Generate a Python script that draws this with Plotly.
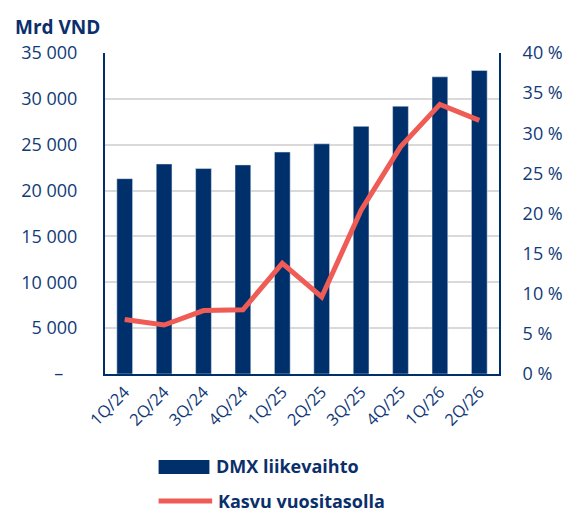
import plotly.graph_objects as go

quarters = ["1Q/24", "2Q/24", "3Q/24", "4Q/24", "1Q/25", "2Q/25", "3Q/25", "4Q/25", "1Q/26", "2Q/26"]
revenue = [21300, 22900, 22400, 22800, 24200, 25100, 27000, 29200, 32400, 33100]
growth = [6.8, 6.1, 7.9, 8.0, 13.8, 9.6, 20.4, 28.3, 33.6, 31.6]

left_ticks = [0, 5000, 10000, 15000, 20000, 25000, 30000, 35000]
left_text = ["–\u00a0\u00a0\u00a0", "5 000", "10 000", "15 000", "20 000", "25 000", "30 000", "35 000"]
right_ticks = [0, 5, 10, 15, 20, 25, 30, 35, 40]
right_text = ["0 %", "5 %", "10 %", "15 %", "20 %", "25 %", "30 %", "35 %", "40 %"]

navy = "#00306b"
text_col = "#123a78"
red = "#ef5b55"
font = "Open Sans"

fig = go.Figure()
fig.add_trace(go.Bar(x=quarters, y=revenue, marker_color=navy, name="DMX liikevaihto"))
fig.add_trace(go.Scatter(x=quarters, y=growth, yaxis="y2", mode="lines",
                         line=dict(color=red, width=5), name="Kasvu vuositasolla"))

fig.update_layout(
    width=575, height=512,
    margin=dict(l=105, r=66, t=53, b=138),
    plot_bgcolor="white", paper_bgcolor="white",
    showlegend=False, bargap=0.6,
    font=dict(family=font, color=text_col, size=18),
    title=dict(text="<b>Mrd VND</b>", xref="container", yref="container",
               x=15 / 575, y=1 - 27 / 512, xanchor="left", yanchor="middle",
               font=dict(size=19, color="#0a2f6b", family=font)),
    xaxis=dict(showline=True, linecolor=navy, linewidth=2, tickangle=-45,
               tickfont=dict(size=16.5), showgrid=False),
    yaxis=dict(range=[0, 35000], tickvals=left_ticks, ticktext=left_text,
               showline=True, linecolor=navy, linewidth=2,
               gridcolor="#d9d9d9", gridwidth=1.5, zeroline=False,
               ticklabelstandoff=22),
    yaxis2=dict(range=[0, 40], tickvals=right_ticks, ticktext=right_text,
                overlaying="y", side="right", showline=True, linecolor=navy,
                linewidth=2, showgrid=False, zeroline=False, ticklabelstandoff=18),
)

# legend drawn by hand so the bar swatch is a wide block like the original
fig.add_shape(type="rect", xref="paper", yref="paper", x0=0.136, x1=0.265,
              y0=-0.3115, y1=-0.268, fillcolor=navy, line_width=0)
fig.add_shape(type="line", xref="paper", yref="paper", x0=0.136, x1=0.272,
              y0=-0.396, y1=-0.396, line=dict(color=red, width=5))
fig.add_annotation(text="<b>DMX liikevaihto</b>", xref="paper", yref="paper",
                   x=0.277, y=-0.2866, xanchor="left", yanchor="middle",
                   showarrow=False, font=dict(size=18, color="#0a2f6b"))
fig.add_annotation(text="<b>Kasvu vuositasolla</b>", xref="paper", yref="paper",
                   x=0.282, y=-0.396, xanchor="left", yanchor="middle",
                   showarrow=False, font=dict(size=18, color="#0a2f6b"))

fig.write_html("out.html", config={"displayModeBar": False},
               post_script="document.body.style.margin='0';")
